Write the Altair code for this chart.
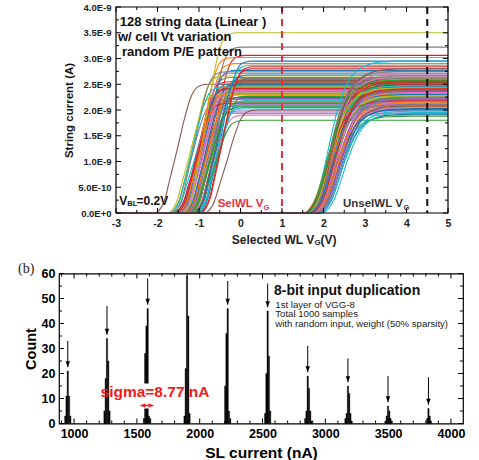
import altair as alt
import pandas as pd

SANS = "Liberation Sans"
SERIF = "Liberation Serif"
TAB10 = ["#1f77b4", "#ff7f0e", "#2ca02c", "#d62728", "#9467bd",
         "#8c564b", "#e377c2", "#7f7f7f", "#bcbd22", "#17becf"]

# ---------------- (a) string current vs. selected WL gate voltage ----------------
# selected-WL sweep: gate voltage at half saturation (V) and saturation current (nA)
sel_vt = [
    -0.92, -0.71, -1.05, -0.64, -0.83, -1.52, -0.58, -0.97,
    -0.76, -1.12, -0.69, -0.88, -0.52, -1.01, -0.79, -0.62,
    -0.94, -1.18, -0.73, -0.85, -0.47, -0.99, -0.67, -0.81,
    -1.08, -0.56, -0.90, -0.74, -1.22, -0.61, -0.86, -0.96,
    -0.70, -0.42, -1.03, -0.78, -0.65, -0.89, -1.14, -0.54,
    -0.82, -0.93, -0.68, -1.00, -0.75, -0.59, -0.87, -1.10,
    -0.72, -0.50, -0.95, -0.80, -0.63, -1.06, -0.77, -0.33,
    -0.91, -0.66, -0.84, -1.16, -0.57, -0.98, -0.73, -0.44,
]
sel_isat = [
    2.46, 2.58, 2.21, 3.06, 2.39, 2.50, 2.12, 2.63,
    2.33, 2.02, 2.48, 2.90, 2.27, 2.55, 1.98, 2.41,
    2.71, 2.17, 2.44, 2.08, 2.95, 2.36, 2.52, 2.24,
    1.94, 2.60, 2.43, 3.22, 2.30, 2.05, 2.77, 2.47,
    2.15, 2.84, 2.40, 2.53, 1.90, 2.35, 2.66, 2.19,
    2.49, 3.02, 2.26, 2.42, 2.10, 2.57, 2.38, 2.74,
    2.45, 2.87, 2.51, 2.29, 1.80, 2.13, 2.22, 2.00,
    2.37, 2.61, 3.50, 2.44, 2.68, 2.32, 2.06, 2.80,
]
# unselected-WL sweep
unsel_vt = [
    2.31, 2.18, 2.42, 2.27, 2.36, 2.22, 2.49, 2.33,
    2.25, 2.40, 2.15, 2.29, 2.38, 2.20, 2.45, 2.34,
    2.28, 2.12, 2.37, 2.24, 2.52, 2.30, 2.19, 2.41,
    2.35, 2.18, 2.47, 2.21, 2.32, 2.39, 2.17, 2.28,
    2.43, 2.23, 2.34, 2.56, 2.27, 2.36, 2.14, 2.30,
    2.39, 2.25, 2.46, 2.20, 2.33, 2.29, 2.41, 2.24,
    2.37, 2.16, 2.31, 2.44, 2.26, 2.35, 2.22, 2.50,
    2.28, 2.40, 2.19, 2.33, 2.45, 2.27, 2.36, 2.23,
]
unsel_isat = [
    2.21, 2.48, 2.05, 2.35, 2.60, 2.14, 1.92, 2.42,
    2.27, 2.53, 2.00, 2.38, 2.19, 2.66, 2.09, 2.31,
    2.45, 2.24, 1.88, 2.57, 2.12, 2.34, 2.70, 2.17,
    2.29, 2.95, 2.03, 2.40, 2.23, 2.50, 2.11, 2.36,
    2.16, 2.62, 2.26, 1.95, 2.44, 2.07, 2.33, 2.55,
    2.20, 2.39, 2.13, 2.75, 2.28, 2.47, 2.01, 2.32,
    2.52, 2.18, 2.37, 2.08, 2.64, 2.25, 2.43, 1.98,
    2.30, 2.15, 2.58, 2.41, 2.22, 2.80, 2.34, 2.10,
]
# transfer-curve profiles: offset from the half-current point (V) -> fraction of saturation
sel_profile_dv = [-0.55, -0.40, -0.30, -0.20, -0.10, 0.00, 0.10, 0.20, 0.30, 0.40, 0.55, 0.75]
sel_profile_frac = [0.000, 0.040, 0.110, 0.240, 0.370, 0.500, 0.640, 0.770, 0.880, 0.950, 0.990, 1.000]
unsel_profile_dv = [-0.60, -0.45, -0.30, -0.15, 0.00, 0.15, 0.30, 0.45, 0.60, 0.80, 1.00, 1.30, 1.70]
unsel_profile_frac = [0.000, 0.040, 0.140, 0.310, 0.500, 0.670, 0.800, 0.880, 0.930, 0.965, 0.985, 0.995, 1.000]

SEL_VG = 1.0      # read voltage on the selected WL
UNSEL_VG = 4.5    # pass voltage on the unselected WLs
V_RANGE = [-3.0, 5.0]
I_RANGE = [0.0, 4.0]   # nA
volt_ticks = [-3, -2, -1, 0, 1, 2, 3, 4, 5]
volt_minor = [-2.5, -1.5, -0.5, 0.5, 1.5, 2.5, 3.5, 4.5]
cur_ticks = [0, 0.5, 1.0, 1.5, 2.0, 2.5, 3.0, 3.5, 4.0]
cur_minor = [0.25, 0.75, 1.25, 1.75, 2.25, 2.75, 3.25, 3.75]

# ---------------- (b) SL current histogram ----------------
hist_centers = [950, 1262, 1586, 1899, 2223, 2541, 2860, 3180, 3499, 3821]
hist_bin_offsets = [-30, -20, -10, 0, 10, 20, 30]
hist_counts = [
    [0, 3, 11, 21, 11, 3, 0],
    [0, 5, 18, 34, 25, 5, 0],
    [2, 28, 39, 46, 3, 2, 0],
    [0, 3, 22, 59, 43, 4, 0],
    [0, 15, 36, 46, 5, 2, 0],
    [0, 4, 20, 45, 27, 5, 0],
    [0, 2, 5, 19, 14, 5, 1],
    [0, 2, 4, 15, 12, 4, 1],
    [0, 1, 3, 7, 5, 2, 1],
    [0, 0, 2, 6, 3, 1, 0],
]
BIN_W = 10
arrow_x = [950, 1262, 1586, 2223, 2541, 2860, 3180, 3499, 3821]
arrow_from = [33, 47, 58, 57, 56, 31, 26, 19, 18.5]
arrow_to = [22.5, 35.5, 47.5, 47.5, 46.5, 20.5, 16.5, 8.5, 7.5]
sigma_span = [1528, 1632]
sigma_level = 7.2
SL_RANGE = [880, 4096]
COUNT_RANGE = [0, 60]
sl_ticks = [1000, 1500, 2000, 2500, 3000, 3500, 4000]
sl_minor = [900, 1100, 1200, 1300, 1400, 1600, 1700, 1800, 1900, 2100, 2200, 2300, 2400,
            2600, 2700, 2800, 2900, 3100, 3200, 3300, 3400, 3600, 3700, 3800, 3900]
count_ticks = [0, 10, 20, 30, 40, 50, 60]
count_minor = [5, 15, 25, 35, 45, 55]

# ---------------- tables ----------------
rows = []
groups = [(sel_vt, sel_isat, sel_profile_dv, sel_profile_frac, 0),
          (unsel_vt, unsel_isat, unsel_profile_dv, unsel_profile_frac, len(sel_vt))]
for vts, isats, dvs, fracs, base in groups:
    for k, (vt, isat) in enumerate(zip(vts, isats)):
        cid = base + k
        rows.append((cid, V_RANGE[0], 0.0))
        for dv, f in zip(dvs, fracs):
            rows.append((cid, vt + dv, isat * f))
        rows.append((cid, V_RANGE[1], isat))
curve_df = pd.DataFrame(rows, columns=["curve", "vg", "i_na"])
curve_df["cidx"] = curve_df["curve"] % 10

hist_rows = []
for c, counts in zip(hist_centers, hist_counts):
    for off, n in zip(hist_bin_offsets, counts):
        if n > 0:
            hist_rows.append((c + off - BIN_W / 2, c + off + BIN_W / 2, n))
hist_df = pd.DataFrame(hist_rows, columns=["lo", "hi", "count"])
arrow_df = pd.DataFrame({"x": arrow_x, "y0": arrow_from, "y1": arrow_to})

ONE = pd.DataFrame({"k": [0]})


def label(txt, x, y, size, weight="bold", color="#111111", font=SANS, align="left"):
    return alt.Chart(ONE).mark_text(
        text=txt, font=font, fontSize=size, fontWeight=weight, color=color,
        align=align, baseline="middle",
    ).encode(x=alt.value(x), y=alt.value(y))


def inward_ticks(xs, ys, xax, yax, xmaj, xmin, ymaj, ymin, x0, w, h):
    out = []
    for vals, ln in ((xmaj, 5), (xmin, 3)):
        base = alt.Chart(pd.DataFrame({"t": vals})).mark_rule(color="black", strokeWidth=1)
        xe = alt.X("t:Q", scale=xs, axis=xax)
        out.append(base.encode(x=xe, y=alt.value(h), y2=alt.value(h - ln)))
        out.append(base.encode(x=xe, y=alt.value(0), y2=alt.value(ln)))
    for vals, ln in ((ymaj, 5), (ymin, 3)):
        base = alt.Chart(pd.DataFrame({"t": vals})).mark_rule(color="black", strokeWidth=1)
        ye = alt.Y("t:Q", scale=ys, axis=yax)
        out.append(base.encode(y=ye, x=alt.value(x0), x2=alt.value(x0 + ln)))
        out.append(base.encode(y=ye, x=alt.value(x0 + w), x2=alt.value(x0 + w - ln)))
    return out


# ---------------- panel (a) ----------------
# the plot box of panel (a) sits OX px to the right of panel (b)'s left edge
OX = 57
W_A, H_A = 332, 206
XS_A = alt.Scale(domain=V_RANGE, range=[OX, OX + W_A], nice=False, zero=False)
YS_A = alt.Scale(domain=I_RANGE, nice=False)
E_LABEL = ("datum.value == 0 ? '0.0E+0' : (datum.value < 1 ? "
           "format(datum.value * 10, '.1f') + 'E-10' : format(datum.value, '.1f') + 'E-9')")
XAX_A = alt.Axis(
    values=volt_ticks, labelExpr="'' + datum.value", title=None, ticks=False,
    domain=False, grid=False, labelFont=SANS, labelFontSize=10.5, labelFontWeight="bold",
    labelColor="#222222", labelPadding=5, labelFlush=False, labelOverlap=False)
YAX_A = alt.Axis(
    values=cur_ticks, labelExpr=E_LABEL, title="String current (A)", ticks=False,
    domain=False, grid=False, labelFont=SANS, labelFontSize=9.5, labelFontWeight="bold",
    labelColor="#222222", labelPadding=5, labelOverlap=False, titleFont=SANS,
    titleFontSize=11.5, titleFontWeight="bold", titleColor="#111111", titlePadding=3,
    offset=-OX)

curves = alt.Chart(curve_df).mark_line(strokeWidth=1.1, interpolate="monotone").encode(
    x=alt.X("vg:Q", scale=XS_A, axis=XAX_A),
    y=alt.Y("i_na:Q", scale=YS_A, axis=YAX_A),
    color=alt.Color("cidx:N", scale=alt.Scale(domain=list(range(10)), range=TAB10), legend=None),
    detail="curve:N",
)

sel_line = alt.Chart(pd.DataFrame({"v": [SEL_VG]})).mark_rule(
    color="#e8303c", strokeWidth=2, strokeDash=[7, 5]).encode(
    x=alt.X("v:Q", scale=XS_A, axis=XAX_A))
unsel_line = alt.Chart(pd.DataFrame({"v": [UNSEL_VG]})).mark_rule(
    color="#111111", strokeWidth=2, strokeDash=[7, 5]).encode(
    x=alt.X("v:Q", scale=XS_A, axis=XAX_A))

frame_a = alt.Chart(ONE).mark_rect(fillOpacity=0, stroke="black", strokeWidth=1.2).encode(
    x=alt.value(OX), x2=alt.value(OX + W_A), y=alt.value(0), y2=alt.value(H_A))

panel_a = alt.layer(
    curves, sel_line, unsel_line,
    *inward_ticks(XS_A, YS_A, XAX_A, YAX_A, volt_ticks, volt_minor, cur_ticks, cur_minor,
                  OX, W_A, H_A),
    frame_a,
    label("128 string data (Linear )", OX + 3.7, 15, 13),
    label("w/ cell Vt variation", OX + 2, 30, 13),
    label("random P/E pattern", OX + 6, 45, 13),
    label("V", OX + 3.3, 194, 12),
    label("BL", OX + 11.3, 197, 7.5),
    label("=0.2V", OX + 20.5, 194, 12),
    label("SelWL V", OX + 101.7, 197, 11.5, color="#e8303c"),
    label("G", OX + 147.5, 201, 7.5, color="#e8303c"),
    label("UnselWL V", OX + 227, 197, 11.5, color="#333333"),
    label("G", OX + 287.5, 201, 7.5, color="#333333"),
    label("Selected WL V", OX + 115.7, 233, 12, color="#222222"),
    label("G", OX + 198.6, 236, 8, color="#222222"),
    label("(V)", OX + 204.6, 233, 12, color="#222222"),
).properties(width=OX + W_A, height=H_A, view=alt.ViewBackground(strokeOpacity=0))

# ---------------- panel (b) ----------------
W_B, H_B = 404, 150
XS_B = alt.Scale(domain=SL_RANGE, nice=False, zero=False)
YS_B = alt.Scale(domain=COUNT_RANGE, nice=False)
XAX_B = alt.Axis(
    values=sl_ticks, format="d", title="SL current (nA)", ticks=False, domain=False,
    grid=False, labelFont=SANS, labelFontSize=12.5, labelFontWeight="bold",
    labelColor="#000000", labelPadding=4, labelFlush=False, labelOverlap=False,
    titleFont=SANS, titleFontSize=15.5, titleFontWeight="bold", titleColor="#000000",
    titlePadding=5)
YAX_B = alt.Axis(
    values=count_ticks, title="Count", ticks=False, domain=False, grid=False,
    labelFont=SANS, labelFontSize=12.5, labelFontWeight="bold", labelColor="#000000",
    labelPadding=4, labelOverlap=False, titleFont=SANS, titleFontSize=14.5,
    titleFontWeight="bold", titleColor="#000000", titlePadding=3)

bars = alt.Chart(hist_df).mark_rect(color="black", stroke="black", strokeWidth=0.4).encode(
    x=alt.X("lo:Q", scale=XS_B, axis=XAX_B),
    x2="hi:Q",
    y=alt.Y("count:Q", scale=YS_B, axis=YAX_B),
    y2=alt.value(H_B),
)

arrow_shafts = alt.Chart(arrow_df).mark_rule(color="black", strokeWidth=1).encode(
    x=alt.X("x:Q", scale=XS_B, axis=XAX_B),
    y=alt.Y("y0:Q", scale=YS_B, axis=YAX_B),
    y2="y1:Q",
)
arrow_heads = alt.Chart(arrow_df).mark_point(
    shape="M-0.73,-2L0.73,-2L0,0Z", size=36, filled=True, color="black", opacity=1,
    strokeWidth=0).encode(
    x=alt.X("x:Q", scale=XS_B, axis=XAX_B),
    y=alt.Y("y1:Q", scale=YS_B, axis=YAX_B),
)

# white backing behind the sigma annotation (clears the 1586 nA spike under the text)
sigma_box = alt.Chart(ONE).mark_rect(color="white").encode(
    x=alt.value(54), x2=alt.value(124), y=alt.value(110), y2=alt.value(135))

sig_df = pd.DataFrame({"x0": [sigma_span[0]], "x1": [sigma_span[1]], "y": [sigma_level]})
sig_shaft = alt.Chart(sig_df).mark_rule(color="#f21c1c", strokeWidth=1.3).encode(
    x=alt.X("x0:Q", scale=XS_B, axis=XAX_B), x2="x1:Q",
    y=alt.Y("y:Q", scale=YS_B, axis=YAX_B))
sig_left = alt.Chart(sig_df).mark_point(
    shape="M0,0L2,-0.9L2,0.9Z", size=25, filled=True, color="#f21c1c", opacity=1,
    strokeWidth=0).encode(
    x=alt.X("x0:Q", scale=XS_B, axis=XAX_B), y=alt.Y("y:Q", scale=YS_B, axis=YAX_B))
sig_right = alt.Chart(sig_df).mark_point(
    shape="M0,0L-2,-0.9L-2,0.9Z", size=25, filled=True, color="#f21c1c", opacity=1,
    strokeWidth=0).encode(
    x=alt.X("x1:Q", scale=XS_B, axis=XAX_B), y=alt.Y("y:Q", scale=YS_B, axis=YAX_B))

panel_b = alt.layer(
    bars, arrow_shafts, arrow_heads, sigma_box, sig_shaft, sig_left, sig_right,
    *inward_ticks(XS_B, YS_B, XAX_B, YAX_B, sl_ticks, sl_minor, count_ticks, count_minor,
                  0, W_B, H_B),
    label("(b)", -41, -4.7, 14, weight="normal", color="#222222", font=SERIF),
    label("8-bit input duplication", 215, 17, 14),
    label("1st layer of VGG-8", 216.3, 31, 9.6, weight="normal", color="#222222"),
    label("Total 1000 samples", 216.3, 40.6, 9.6, weight="normal", color="#222222"),
    label("with random input, weight (50% sparsity)", 216.3, 50.2, 9.6, weight="normal",
          color="#222222"),
    label("sigma=8.77 nA", 96, 118, 15.5, color="#f21c1c", align="center"),
).properties(width=W_B, height=H_B)

chart = alt.vconcat(panel_a, panel_b, spacing=13.5).properties(
    padding={"left": 17, "top": 2, "right": 4, "bottom": 0},
    background="white",
).configure_view(stroke="black", strokeWidth=1.2)

chart.save("out.html", embed_options={"renderer": "svg", "actions": False})
